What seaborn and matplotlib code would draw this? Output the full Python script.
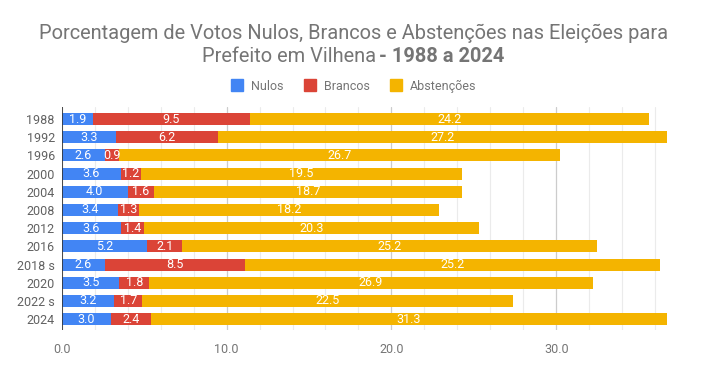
import matplotlib
matplotlib.use("Agg")
import matplotlib.pyplot as plt
from matplotlib.lines import Line2D
import numpy as np
import pandas as pd
import seaborn as sns

anos = ["1988", "1992", "1996", "2000", "2004", "2008", "2012", "2016",
        "2018 s", "2020", "2022 s", "2024"]
nulos = [1.9, 3.3, 2.6, 3.6, 4.0, 3.4, 3.6, 5.2, 2.6, 3.5, 3.2, 3.0]
brancos = [9.5, 6.2, 0.9, 1.2, 1.6, 1.3, 1.4, 2.1, 8.5, 1.8, 1.7, 2.4]
abstencoes = [24.2, 27.2, 26.7, 19.5, 18.7, 18.2, 20.3, 25.2, 25.2, 26.9, 22.5, 31.3]
series_nomes = ["Nulos", "Brancos", "Abstenções"]
cores = ["#4285F4", "#DB4437", "#F4B400"]
xticks = [0, 10, 20, 30]

sns.set_theme(style="white")
plt.rcParams["font.family"] = ["Roboto", "DejaVu Sans"]

df = pd.DataFrame({"ano": anos, "nulos": nulos, "brancos": brancos, "abst": abstencoes})
df["c1"] = df["nulos"]
df["c2"] = df["nulos"] + df["brancos"]
df["c3"] = df["c2"] + df["abst"]

fig = plt.figure(figsize=(7.07, 3.71), dpi=100)
ax = fig.add_axes([0.0873, 0.1105, 0.8557, 0.601])

for col, cor in zip(["c3", "c2", "c1"], cores[::-1]):
    sns.barplot(data=df, y="ano", x=col, orient="h", color=cor, saturation=1,
                width=0.66, ax=ax, order=anos, linewidth=0)

# labels
for i in range(len(anos)):
    starts = [0, df["c1"][i], df["c2"][i]]
    vals = [nulos[i], brancos[i], abstencoes[i]]
    for s, v in zip(starts, vals):
        ax.text(s + v / 2, i, f"{v:.1f}", ha="center", va="center",
                color="white", fontsize=9)

ax.set_xlim(0, 36.7)
ax.set_ylim(11.6, -0.66)
ax.set_xticks(xticks)
ax.set_xticklabels([f"{t:.1f}" for t in xticks])
ax.set_xticks(np.arange(0, 37, 2), minor=True)
ax.grid(axis="x", which="minor", color="#ebebeb", lw=0.8)
ax.grid(axis="x", which="major", color="#cccccc", lw=0.9)
ax.grid(axis="y", visible=False)
ax.set_axisbelow(True)
for sp in ax.spines.values():
    sp.set_visible(False)
ax.axvline(0, color="#333333", lw=1.2, zorder=5)
ax.tick_params(axis="both", length=0, labelsize=9)
ax.tick_params(axis="x", colors="#757575", pad=9)
ax.tick_params(axis="y", colors="#616161", pad=5)
ax.set_xlabel("")
ax.set_ylabel("")

# title
tcol = "#757575"
tfs = 14.4
fig.text(0.5, 1 - 33 / 371, "Porcentagem de Votos Nulos, Brancos e Abstenções nas Eleições para",
         ha="center", va="center", fontsize=tfs, color=tcol)
renderer = fig.canvas.get_renderer()
t1 = fig.text(0, 1 - 56 / 371, "Prefeito em Vilhena", ha="left", va="center",
              fontsize=tfs, color=tcol)
t2 = fig.text(0, 1 - 56 / 371, "- 1988 a 2024", ha="left", va="center",
              fontsize=tfs, color=tcol, fontweight="bold")
gap = 3 / fig.bbox.width
w1 = t1.get_window_extent(renderer).width / fig.bbox.width
w2 = t2.get_window_extent(renderer).width / fig.bbox.width
x0 = 0.5 - (w1 + gap + w2) / 2
t1.set_x(x0)
t2.set_x(x0 + w1 + gap)

handles = [Line2D([0], [0], marker="s", color="none", markerfacecolor=c,
                  markeredgecolor=c, markersize=8) for c in cores]
leg = fig.legend(handles, series_nomes, loc="center", bbox_to_anchor=(0.5, 1 - 86 / 371),
                 ncol=3, frameon=False, fontsize=9, handlelength=1.0,
                 handletextpad=0.6, columnspacing=1.6)
for t in leg.get_texts():
    t.set_color(tcol)

fig.savefig("out.png", dpi=100)
